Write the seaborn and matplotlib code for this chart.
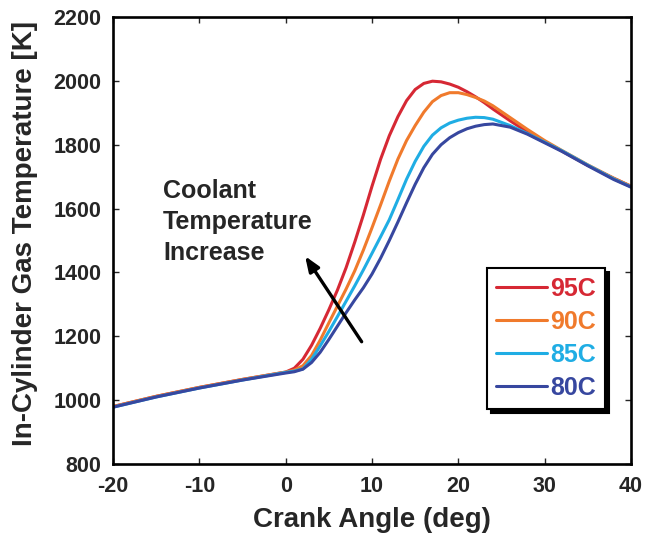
import numpy as np
import pandas as pd
import seaborn as sns
import matplotlib
matplotlib.use("Agg")
import matplotlib.pyplot as plt
from matplotlib.lines import Line2D

crank = [-20, -15, -10, -5, 0, 1, 2, 3, 4, 5, 6, 7, 8, 9, 10, 11, 12, 13, 14, 15, 16, 17,
         18, 19, 20, 21, 22, 23, 24, 26, 28, 30, 32, 35, 38, 40]

t95 = [980, 1012, 1040, 1065, 1088, 1100, 1128, 1172, 1225, 1283, 1345, 1415, 1495, 1580,
       1670, 1755, 1828, 1888, 1938, 1973, 1992, 1999, 1997, 1990, 1980, 1966, 1950, 1932,
       1912, 1875, 1840, 1810, 1780, 1735, 1695, 1670]
t90 = [980, 1012, 1040, 1065, 1088, 1094, 1108, 1140, 1188, 1242, 1295, 1348, 1405, 1470,
       1540, 1612, 1686, 1755, 1813, 1860, 1902, 1935, 1954, 1963, 1963, 1957, 1948, 1937,
       1922, 1885, 1848, 1813, 1782, 1737, 1695, 1670]
t85 = [978, 1010, 1038, 1063, 1087, 1091, 1098, 1128, 1170, 1215, 1262, 1310, 1358, 1408,
       1460, 1512, 1565, 1628, 1692, 1748, 1795, 1830, 1853, 1868, 1877, 1883, 1886, 1885,
       1880, 1860, 1835, 1808, 1781, 1736, 1693, 1668]
t80 = [978, 1010, 1038, 1063, 1085, 1089, 1097, 1118, 1150, 1190, 1232, 1274, 1314, 1352,
       1395, 1445, 1500, 1558, 1618, 1676, 1728, 1770, 1800, 1822, 1838, 1850, 1858, 1863,
       1865, 1855, 1833, 1806, 1779, 1734, 1691, 1667]

labels = ["95C", "90C", "85C", "80C"]
colors = ["#d62834", "#f07a2c", "#1fade4", "#37479f"]

rows = []
for lab, vals in zip(labels, [t95, t90, t85, t80]):
    for c, v in zip(crank, vals):
        rows.append({"Crank": c, "Temp": v, "Series": lab})
df = pd.DataFrame(rows)

sns.set_style("ticks")
plt.rcParams['font.family'] = ['Liberation Sans', 'DejaVu Sans']
plt.rcParams['font.weight'] = 'bold'
plt.rcParams['axes.unicode_minus'] = False

fig = plt.figure(figsize=(6.49, 5.47), dpi=100)
ax = fig.add_axes([0.1741, 0.1517, 0.7982, 0.8172])

sns.lineplot(data=df, x="Crank", y="Temp", hue="Series", hue_order=labels,
             palette=colors, linewidth=2.2, ax=ax, legend=False)

ax.set_xlim(-20, 40)
ax.set_ylim(800, 2200)
ax.set_xticks([-20, -10, 0, 10, 20, 30, 40])
ax.set_yticks([800, 1000, 1200, 1400, 1600, 1800, 2000, 2200])
ax.tick_params(direction='in', top=True, right=True, length=4, width=1.0,
               labelsize=15.5, pad=8.5)
for lbl in ax.get_xticklabels() + ax.get_yticklabels():
    lbl.set_fontweight('bold')
for sp in ax.spines.values():
    sp.set_linewidth(1.9)
    sp.set_color('black')

ax.set_xlabel("Crank Angle (deg)", fontsize=20, fontweight='bold')
ax.set_ylabel("In-Cylinder Gas Temperature [K]", fontsize=20, fontweight='bold')
ax.xaxis.set_label_coords(0.5, -0.096)
ax.yaxis.set_label_coords(-0.145, 0.515)

ax.text(-14.2, 1692, "Coolant\nTemperature\nIncrease", fontsize=18, fontweight='bold',
        va='top', ha='left', linespacing=1.36)
ax.annotate("", xy=(2.25, 1451), xytext=(8.8, 1183),
            arrowprops=dict(arrowstyle='-|>,head_length=0.9,head_width=0.35',
                            color='black', lw=2.4, shrinkA=0, shrinkB=0))

handles = [Line2D([0], [0], color=c, lw=2.2) for c in colors]
leg = ax.legend(handles, labels, loc='upper left', bbox_to_anchor=(0.722, 0.4385),
                borderaxespad=0, fontsize=18, handlelength=2.05, handletextpad=0.12,
                labelspacing=0.36, borderpad=0.35, fancybox=False, framealpha=1,
                edgecolor='black',
                shadow={'ox': 3, 'oy': -3, 'facecolor': 'black', 'edgecolor': 'black',
                        'alpha': 1})
leg.get_frame().set_linewidth(1.5)
for txt, c in zip(leg.get_texts(), colors):
    txt.set_color(c)
    txt.set_fontweight('bold')

fig.savefig("out.png", dpi=100)
